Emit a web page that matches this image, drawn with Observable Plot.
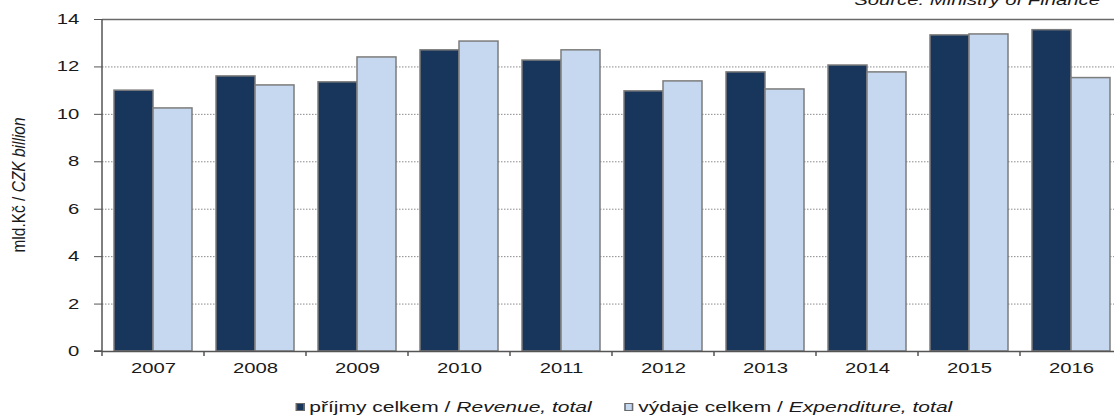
<!DOCTYPE html>
<html><head><meta charset="utf-8">
<script src="https://cdn.jsdelivr.net/npm/d3@7"></script>
<script src="https://cdn.jsdelivr.net/npm/@observablehq/plot@0.6"></script>
<style>
html,body{margin:0;padding:0;background:#fff;overflow:hidden;width:1114px;height:416px;font-family:"Liberation Sans",Arial,sans-serif;color:#1a1a1a;}
#wrap{position:relative;width:1114px;height:416px;}
#legend{position:absolute;top:398px;left:624px;transform-origin:0 50%;transform:scaleX(1.5) translateX(-50%);display:flex;align-items:center;white-space:nowrap;font-size:14px;line-height:18px;}
.item{display:flex;align-items:center;}
.sw{width:6px;height:8px;border:1px solid #6a6a6a;margin-right:3px;box-sizing:border-box;}
</style></head>
<body><div id="wrap"><div id="chart"></div><div id="legend"></div></div>
<script>
const years = ["2007","2008","2009","2010","2011","2012","2013","2014","2015","2016"];
const revenue = [11.0, 11.6, 11.35, 12.7, 12.27, 10.97, 11.77, 12.06, 13.33, 13.55];
const expenditure = [10.25, 11.22, 12.4, 13.07, 12.7, 11.39, 11.05, 11.77, 13.37, 11.53];
const seriesKeys = ["rev", "exp"];
const seriesCz = ["příjmy celkem / ", "výdaje celkem / "];
const seriesEn = ["Revenue, total", "Expenditure, total"];
const seriesColors = ["#18365b", "#c6d8ef"];
const yTicks = [0, 2, 4, 6, 8, 10, 12, 14];
const yLabelCz = "mld.Kč / ";
const yLabelEn = "CZK billion";
const sourceText = "Source: Ministry of Finance";
const stretch = 1.45;

const data = years.flatMap((yr, i) => [
  {year: yr, series: seriesKeys[0], value: revenue[i]},
  {year: yr, series: seriesKeys[1], value: expenditure[i]}
]);

const plot = Plot.plot({
  width: 1114, height: 392,
  marginTop: 19, marginLeft: 98, marginRight: -11, marginBottom: 41,
  style: {fontFamily: '"Liberation Sans", Arial, sans-serif', fontSize: "14px", color: "#1a1a1a", background: "transparent", overflow: "hidden"},
  fx: {domain: years, padding: 0, label: null, axis: null},
  x: {domain: seriesKeys, paddingInner: 0, paddingOuter: 0.3, axis: null},
  y: {domain: [0, 14], label: null},
  color: {domain: seriesKeys, range: seriesColors},
  marks: [
    Plot.gridY(yTicks.filter(t => t > 0 && t < 14), {stroke: "#8a8a8a", strokeOpacity: 1, strokeDasharray: "1.5,1.5"}),
    Plot.ruleY([14], {stroke: "#6a6a6a", strokeWidth: 1.3}),
    Plot.barY(data, {fx: "year", x: "series", y: "value", fill: "series", stroke: "#7c7c7c", strokeWidth: 1.5}),
    Plot.ruleY([0], {stroke: "#555", strokeWidth: 1.5}),
    Plot.axisY({ticks: yTicks, tickSize: 8, tickPadding: 15, fontSize: 14, stroke: "#555", label: null}),
    Plot.axisFx({anchor: "bottom", tickSize: 0, tickPadding: 12, fontSize: 14, label: null})
  ]
});
document.getElementById("chart").appendChild(plot);

// horizontally stretch the axis texts about their anchor points (wrap each in a group)
d3.select(plot).selectAll("text").nodes().forEach(node => {
  const anchor = getComputedStyle(node).textAnchor;
  const g = document.createElementNS("http://www.w3.org/2000/svg", "g");
  node.parentNode.insertBefore(g, node);
  g.appendChild(node);
  const b = g.getBBox();
  const ax = anchor === "end" ? b.x + b.width : anchor === "middle" ? b.x + b.width / 2 : b.x;
  g.setAttribute("transform", `translate(${ax},0) scale(${stretch},1) translate(${-ax},0)`);
});

// structural lines from the library's scales
const fxs = plot.scale("fx"), ys = plot.scale("y");
const svg = d3.select(plot);
const y0 = ys.apply(0), yTop = ys.apply(14);
const xLeft = fxs.apply(years[0]);
svg.append("line").attr("x1", xLeft).attr("x2", xLeft).attr("y1", yTop).attr("y2", y0)
  .attr("stroke", "#555").attr("stroke-width", 1.5);
svg.append("line").attr("x1", xLeft - 8).attr("x2", xLeft).attr("y1", y0).attr("y2", y0)
  .attr("stroke", "#555").attr("stroke-width", 1.5);
svg.append("g").selectAll("line").data(years).join("line")
  .attr("x1", d => fxs.apply(d)).attr("x2", d => fxs.apply(d))
  .attr("y1", y0).attr("y2", y0 + 5).attr("stroke", "#555").attr("stroke-width", 1.5);

// y-axis title
const yl = svg.append("text")
  .attr("transform", `translate(25,${(yTop + y0) / 2}) scale(1.15,1) rotate(-90)`)
  .attr("text-anchor", "middle").attr("font-size", 15.5).attr("fill", "#1a1a1a");
yl.append("tspan").text(yLabelCz);
yl.append("tspan").attr("font-style", "italic").text(yLabelEn);

// source
svg.append("text").attr("transform", `translate(1100,5) scale(${stretch},1)`).attr("text-anchor", "end")
  .attr("font-size", 14).attr("font-style", "italic").attr("fill", "#1a1a1a").text(sourceText);

// legend
const leg = d3.select("#legend");
seriesKeys.forEach((k, i) => {
  const it = leg.append("div").attr("class", "item").style("margin-right", i === 0 ? "22px" : "0");
  it.append("div").attr("class", "sw").style("background", seriesColors[i]);
  const t = it.append("span");
  t.append("span").text(seriesCz[i]);
  t.append("i").text(seriesEn[i]);
});
</script></body></html>
